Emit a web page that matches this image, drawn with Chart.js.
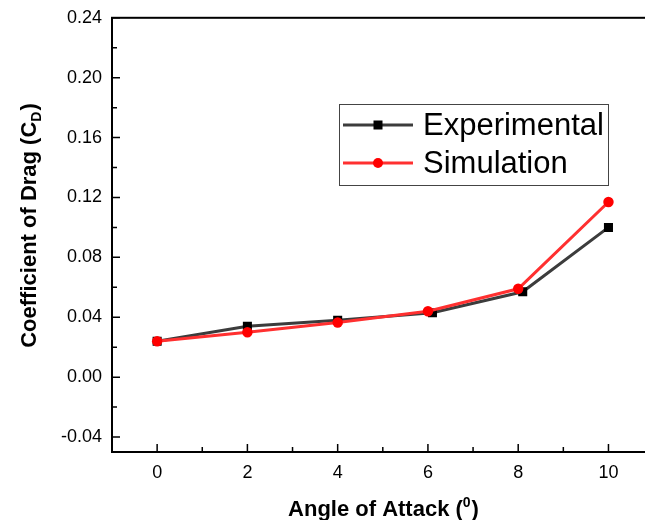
<!DOCTYPE html>
<html>
<head>
<meta charset="utf-8">
<script src="https://cdn.jsdelivr.net/npm/chart.js@4"></script>
<style>
  html, body { margin: 0; padding: 0; background: #fff; overflow: hidden; }
  #wrap { width: 645px; height: 520px; overflow: hidden; }
  #dragChart { display: block; margin-top: -3px; }
</style>
</head>
<body>
<div id="wrap"><canvas id="dragChart" width="660" height="523"></canvas></div>
<script>
// Drag coefficient vs angle of attack

const expAngle = [0, 2, 4, 6.1, 8.1, 10];
const expCd = [0.024, 0.034, 0.038, 0.043, 0.057, 0.100];
const simAngle = [0, 2, 4, 6, 8, 10];
const simCd = [0.024, 0.030, 0.0365, 0.044, 0.059, 0.117];

const xTicks = [0, 2, 4, 6, 8, 10];
const xMinor = [-1, 1, 3, 5, 7, 9, 11];
const yTicks = [-0.04, 0.00, 0.04, 0.08, 0.12, 0.16, 0.20, 0.24];
const yMinor = [-0.02, 0.02, 0.06, 0.10, 0.14, 0.18, 0.22];

const FONT = '"Liberation Sans", Arial, sans-serif';
const OFF = 3; // canvas is shifted up by this much

const toPoints = (xs, ys) => xs.map((x, i) => ({ x: x, y: ys[i] }));

// frame, inward ticks, axis titles with sub/superscripts, legend box
const decor = {
  id: 'decor',
  afterDraw(chart) {
    const c = chart.ctx;
    const a = chart.chartArea;
    const sx = chart.scales.x, sy = chart.scales.y;
    c.save();
    c.strokeStyle = '#000';
    c.lineWidth = 2;
    c.strokeRect(a.left, a.top, a.right - a.left, a.bottom - a.top);

    c.lineWidth = 1.5;
    c.beginPath();
    xTicks.forEach(v => { const p = sx.getPixelForValue(v); c.moveTo(p, a.bottom); c.lineTo(p, a.bottom - 8); });
    xMinor.forEach(v => { const p = sx.getPixelForValue(v); c.moveTo(p, a.bottom); c.lineTo(p, a.bottom - 5); });
    yTicks.forEach(v => { const p = sy.getPixelForValue(v); c.moveTo(a.left, p); c.lineTo(a.left + 8, p); });
    yMinor.forEach(v => { const p = sy.getPixelForValue(v); c.moveTo(a.left, p); c.lineTo(a.left + 5, p); });
    c.stroke();

    c.fillStyle = '#000';
    c.textBaseline = 'alphabetic';
    c.textAlign = 'left';

    // x title: Angle of Attack (⁰)
    const big = 'bold 22px ' + FONT, small = 'bold 14px ' + FONT;
    c.font = big;
    const xa = 'Angle of Attack (', xc = ')';
    const wa = c.measureText(xa).width, wc = c.measureText(xc).width;
    c.font = small;
    const wb = c.measureText('0').width;
    let x0 = 383 - (wa + wb + wc) / 2;
    const xb = 516 + OFF;
    c.font = big; c.fillText(xa, x0, xb);
    c.font = small; c.fillText('0', x0 + wa, xb - 9);
    c.font = big; c.fillText(xc, x0 + wa + wb + 1, xb);

    // y title: Coefficient of Drag (C_D)
    c.translate(36, 226 + OFF);
    c.rotate(-Math.PI / 2);
    c.font = big;
    const ya = 'Coefficient of Drag (C', yc = ')';
    const va = c.measureText(ya).width, vc = c.measureText(yc).width;
    c.font = small;
    const vb = c.measureText('D').width;
    let y0 = -(va + vb + vc) / 2;
    c.font = big; c.fillText(ya, y0, 0);
    c.font = small; c.fillText('D', y0 + va, 5);
    c.font = big; c.fillText(yc, y0 + va + vb + 1, 0);
    c.setTransform(1, 0, 0, 1, 0, 0);

    // legend
    c.lineWidth = 1;
    c.strokeStyle = '#444';
    c.strokeRect(339.5, 104.5 + OFF, 269, 81);
    const rows = [125 + OFF, 163 + OFF];
    c.font = '31px ' + FONT;
    c.textBaseline = 'middle';
    chart.data.datasets.forEach((ds, i) => {
      const y = rows[i];
      c.strokeStyle = ds.borderColor;
      c.lineWidth = 3;
      c.beginPath(); c.moveTo(343, y); c.lineTo(413, y); c.stroke();
      c.fillStyle = ds.pointBackgroundColor;
      if (ds.pointStyle === 'rect') {
        c.fillRect(378 - 4.5, y - 4.5, 9, 9);
      } else {
        c.beginPath(); c.arc(378, y, 5, 0, Math.PI * 2); c.fill();
      }
      c.fillStyle = '#000';
      c.fillText(ds.label, 423, y + 1);
    });
    c.restore();
  }
};

new Chart(document.getElementById('dragChart'), {
  type: 'scatter',
  data: {
    datasets: [{
      label: 'Experimental',
      data: toPoints(expAngle, expCd),
      showLine: true,
      borderColor: '#3c3c3c',
      borderWidth: 3,
      pointStyle: 'rect',
      pointRadius: 6.4,
      pointBackgroundColor: '#000',
      pointBorderWidth: 0,
      order: 2
    }, {
      label: 'Simulation',
      data: toPoints(simAngle, simCd),
      showLine: true,
      borderColor: '#ff3030',
      borderWidth: 3,
      pointStyle: 'circle',
      pointRadius: 5.2,
      pointBackgroundColor: '#ff0000',
      pointBorderWidth: 0,
      order: 1
    }]
  },
  options: {
    responsive: false,
    animation: false,
    devicePixelRatio: 1,
    layout: { padding: { left: 0, top: 14, right: 6, bottom: 0 } },
    plugins: {
      legend: { display: false },
      tooltip: { enabled: false }
    },
    scales: {
      x: {
        type: 'linear',
        min: -1, max: 11,
        afterBuildTicks: s => { s.ticks = xTicks.map(v => ({ value: v })); },
        afterFit: s => { s.height = 68; },
        grid: { display: false, drawTicks: false },
        border: { display: false },
        ticks: { color: '#000', font: { family: FONT, size: 18 }, padding: 10, maxRotation: 0 }
      },
      y: {
        type: 'linear',
        min: -0.05, max: 0.24,
        afterBuildTicks: s => { s.ticks = yTicks.map(v => ({ value: v })); },
        afterFit: s => { s.width = 112; },
        grid: { display: false, drawTicks: false },
        border: { display: false },
        ticks: {
          color: '#000', font: { family: FONT, size: 18 }, padding: 10,
          callback: v => v.toFixed(2)
        }
      }
    }
  },
  plugins: [decor]
});
</script>
</body>
</html>
